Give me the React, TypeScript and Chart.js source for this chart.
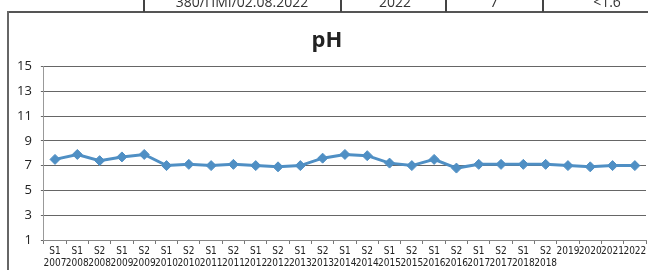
import React, { useEffect, useRef } from "react";
import { Chart, registerables } from "chart.js";

Chart.register(...registerables);

const categories: string[][] = [
  ["S1", "2007"], ["S1", "2008"], ["S2", "2008"], ["S1", "2009"], ["S2", "2009"],
  ["S1", "2010"], ["S2", "2010"], ["S1", "2011"], ["S2", "2011"], ["S1", "2012"],
  ["S2", "2012"], ["S1", "2013"], ["S2", "2013"], ["S1", "2014"], ["S2", "2014"],
  ["S1", "2015"], ["S2", "2015"], ["S1", "2016"], ["S2", "2016"], ["S1", "2017"],
  ["S2", "2017"], ["S1", "2018"], ["S2", "2018"], ["2019"], ["2020"], ["2021"], ["2022"],
];

const phValues: number[] = [
  7.5, 7.9, 7.4, 7.7, 7.9, 7.0, 7.1, 7.0, 7.1, 7.0,
  6.9, 7.0, 7.6, 7.9, 7.8, 7.2, 7.0, 7.5, 6.8, 7.1,
  7.1, 7.1, 7.1, 7.0, 6.9, 7.0, 7.0,
];

const yMin = 1;
const yMax = 15;
const yStep = 2;

const headerCells = ["380/ΠΜΙ/02.08.2022", "2022", "7", "<1.6"];

export default function App() {
  const ref = useRef<HTMLCanvasElement | null>(null);

  useEffect(() => {
    document.body.style.margin = "0";
    const ctx = ref.current;
    if (!ctx) return;
    const chart = new Chart(ctx, {
      type: "line",
      data: {
        labels: categories,
        datasets: [
          {
            label: "pH",
            data: phValues,
            borderColor: "#4f8fc4",
            backgroundColor: "#4f8fc4",
            borderWidth: 3,
            pointStyle: "rectRot",
            pointRadius: 5,
            pointBorderWidth: 1,
            tension: 0,
          },
        ],
      },
      options: {
        animation: false,
        responsive: false,
        layout: { autoPadding: false, padding: { left: 8, right: 2, top: 0, bottom: 0 } },
        plugins: {
          legend: { display: false },
          tooltip: { enabled: false },
          title: {
            display: true,
            text: "pH",
            color: "#222",
            font: { family: "Open Sans", size: 22, weight: "bold" },
            padding: { top: 28, bottom: 12 },
          },
        },
        scales: {
          x: {
            offset: true,
            grid: {
              display: true,
              drawOnChartArea: false,
              drawTicks: true,
              tickLength: 4,
              color: "#777",
              offset: true,
            },
            border: { color: "#888", width: 1 },
            ticks: {
              autoSkip: false,
              maxRotation: 0,
              minRotation: 0,
              padding: 1,
              color: "#222",
              font: { family: "DejaVu Sans Condensed", size: 10 },
            },
          },
          y: {
            min: yMin,
            max: yMax,
            grid: { color: "#666", lineWidth: 1, tickLength: 3 },
            border: { color: "#999", width: 1 },
            ticks: {
              stepSize: yStep,
              padding: 9,
              color: "#222",
              font: { family: "Open Sans", size: 13 },
            },
          },
        },
      },
    });
    return () => chart.destroy();
  }, []);

  const dividers = [143, 340, 445, 542];
  const centers = [242, 395, 494, 607];

  return (
    <div style={{ position: "fixed", left: 0, top: 0, width: 648, height: 270, background: "#fff", overflow: "hidden" }}>
      <canvas ref={ref} width={648} height={270} style={{ position: "absolute", left: 0, top: 0 }} />
      <div style={{ position: "absolute", left: 7, top: 11, width: 648, height: 2, background: "#555" }} />
      <div style={{ position: "absolute", left: 7, top: 11, width: 2, height: 270, background: "#666" }} />
      {dividers.map((x, i) => (
        <div key={i} style={{ position: "absolute", left: x, top: 0, width: 2, height: 12, background: "#444" }} />
      ))}
      {headerCells.map((t, i) => (
        <div
          key={i}
          style={{
            position: "absolute",
            left: centers[i] - 80,
            width: 160,
            top: -8,
            textAlign: "center",
            fontFamily: "Open Sans",
            fontSize: 14,
            color: "#333",
          }}
        >
          {t}
        </div>
      ))}
    </div>
  );
}
